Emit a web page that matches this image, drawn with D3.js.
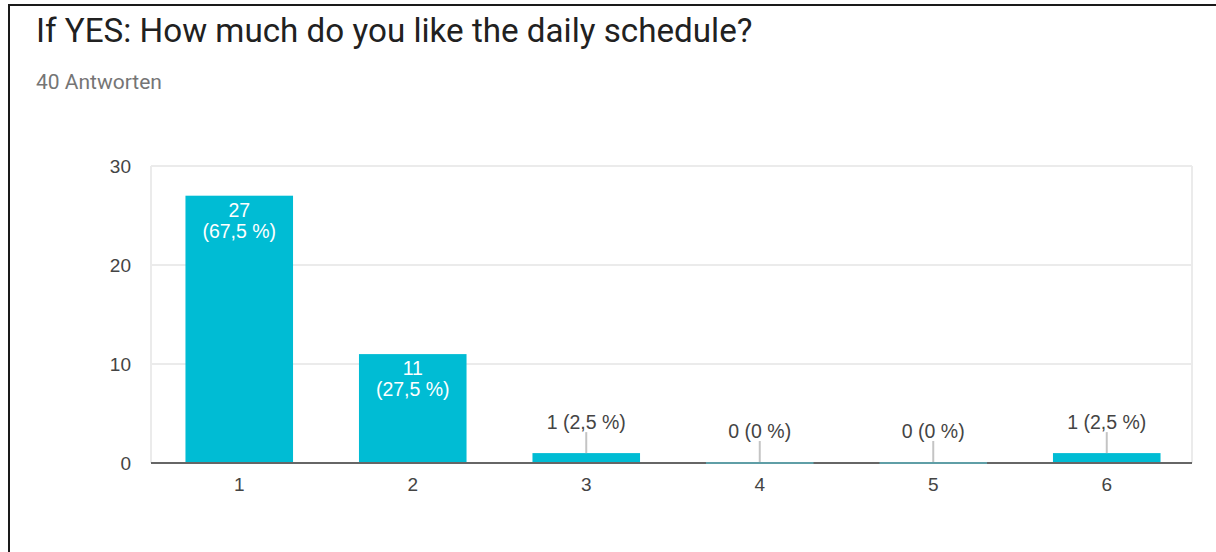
<!DOCTYPE html>
<html><head><meta charset="utf-8">
<script src="https://cdn.jsdelivr.net/npm/d3@7"></script>
<style>html,body{margin:0;padding:0;background:#fff;overflow:hidden}</style>
</head><body>
<svg id="chart" width="1216" height="552"></svg>
<script>
const categories = ["1","2","3","4","5","6"];
const counts = [27, 11, 1, 0, 0, 1];
const percentLabels = ["67,5 %","27,5 %","2,5 %","0 %","0 %","2,5 %"];
const yTicks = [0, 10, 20, 30];
const titleText = "If YES: How much do you like the daily schedule?";
const subtitleText = "40 Antworten";

const svg = d3.select("#chart");
svg.append("rect").attr("x",9).attr("y",5).attr("width",1240).attr("height",600)
  .attr("fill","#fff").attr("stroke","#1a1a1a").attr("stroke-width",2);

svg.append("text").attr("x",36).attr("y",42).attr("font-family","Roboto")
  .attr("font-size",33.2).attr("fill","#212121").text(titleText);
svg.append("text").attr("x",36).attr("y",89).attr("font-family","Roboto")
  .attr("font-size",21).attr("fill","#757575").text(subtitleText);

const pLeft = 151, pRight = 1192, pTop = 166, pBottom = 463;
const x = d3.scaleBand().domain(categories).range([pLeft+1.5,pRight+1.5]).paddingInner(0.38).paddingOuter(0.19);
const y = d3.scaleLinear().domain([0,30]).range([pBottom, pTop]);
const fontF = "Arial, Liberation Sans";

// grid
svg.append("g").selectAll("line").data(yTicks.filter(t=>t>0)).join("line")
  .attr("x1",pLeft).attr("x2",pRight).attr("y1",d=>y(d)).attr("y2",d=>y(d))
  .attr("stroke","#ebebeb").attr("stroke-width",2);
svg.append("line").attr("x1",pLeft).attr("x2",pLeft).attr("y1",y(30)).attr("y2",pBottom)
  .attr("stroke","#ebebeb").attr("stroke-width",2);
svg.append("line").attr("x1",pRight).attr("x2",pRight).attr("y1",y(30)).attr("y2",pBottom)
  .attr("stroke","#ebebeb").attr("stroke-width",2);

// y axis labels
const yAxis = d3.axisLeft(y).tickValues(yTicks).tickSize(0).tickPadding(20);
const gy = svg.append("g").attr("transform",`translate(${pLeft},0)`).call(yAxis);
gy.select(".domain").remove();
gy.selectAll("text").attr("font-family",fontF).attr("font-size",19).attr("fill","#444");

// bars (non-zero)
const data = categories.map((c,i)=>({c, v:counts[i], p:percentLabels[i]}));
svg.append("g").selectAll("rect").data(data.filter(d=>d.v>0)).join("rect")
  .attr("x",d=>x(d.c)).attr("width",x.bandwidth())
  .attr("y",d=> y(d.v))
  .attr("height",d=> pBottom-y(d.v))
  .attr("fill","#00bcd4");

// axis baseline
const xAxis = d3.axisBottom(x).tickSize(0).tickPadding(15);
const gx = svg.append("g").attr("transform",`translate(0,${pBottom})`).call(xAxis);
gx.select(".domain").attr("d",`M${pLeft},0H${pRight}`).attr("stroke","#666").attr("stroke-width",2);
gx.selectAll("text").attr("font-family",fontF).attr("font-size",19).attr("fill","#444");

// zero-value bars drawn as thin lines on the axis
svg.append("g").selectAll("rect").data(data.filter(d=>d.v===0)).join("rect")
  .attr("x",d=>x(d.c)).attr("width",x.bandwidth())
  .attr("y",pBottom-1).attr("height",2)
  .attr("fill","#5f9ea6");

// labels
const lab = svg.append("g").attr("font-family",fontF).attr("font-size",19.5).attr("text-anchor","middle");
data.forEach(d=>{
  const cx = x(d.c) + x.bandwidth()/2;
  const topY = y(d.v);
  if (d.v >= 5) {
    lab.append("text").attr("x",cx).attr("y",topY+21).attr("fill","#fff").text(d.v);
    lab.append("text").attr("x",cx).attr("y",topY+42).attr("fill","#fff").text(`(${d.p})`);
  } else {
    const t = d.v>0 ? topY : pBottom-1;
    svg.append("line").attr("x1",cx).attr("x2",cx).attr("y1",t-21).attr("y2",t)
      .attr("stroke","#c4c4c4").attr("stroke-width",2);
    lab.append("text").attr("x",cx).attr("y",t-24).attr("fill","#444").text(`${d.v} (${d.p})`);
  }
});
</script>
</body></html>
